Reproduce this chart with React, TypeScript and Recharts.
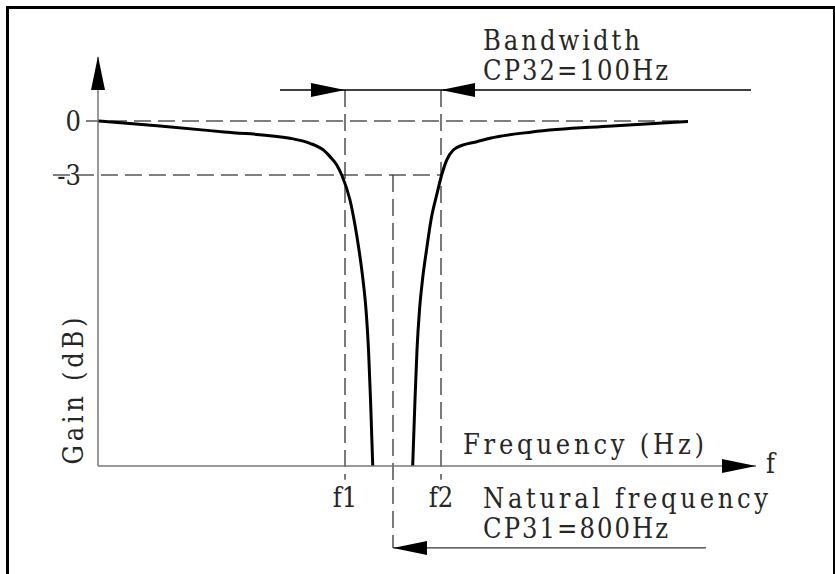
import { LineChart, Line, XAxis, YAxis, ReferenceLine, ReferenceDot } from "recharts";

// notch filter gain (Hz, dB)
const F1 = 750;
const F2 = 850;
const FN = 800;

const lowerBranch = [
  { hz: 492.7, db: 0 },
  { hz: 557.3, db: -0.28 },
  { hz: 624.0, db: -0.61 },
  { hz: 692.7, db: -0.96 },
  { hz: 713.5, db: -1.24 },
  { hz: 727.4, db: -1.61 },
  { hz: 734.4, db: -1.98 },
  { hz: 741.4, db: -2.44 },
  { hz: 746.6, db: -3.0 },
  { hz: 755.2, db: -4.39 },
  { hz: 760.4, db: -5.78 },
  { hz: 764.6, db: -7.17 },
  { hz: 768.75, db: -8.83 },
  { hz: 771.9, db: -10.5 },
  { hz: 774.5, db: -12.72 },
  { hz: 776.6, db: -15.5 },
  { hz: 778.9, db: -19.17 },
];

const upperBranch = [
  { hz: 820.5, db: -19.17 },
  { hz: 822.9, db: -15.5 },
  { hz: 825.0, db: -12.72 },
  { hz: 827.6, db: -10.5 },
  { hz: 830.7, db: -8.83 },
  { hz: 834.9, db: -7.17 },
  { hz: 839.6, db: -5.5 },
  { hz: 845.5, db: -4.11 },
  { hz: 850.7, db: -3.0 },
  { hz: 855.9, db: -2.17 },
  { hz: 862.8, db: -1.61 },
  { hz: 873.2, db: -1.33 },
  { hz: 887.2, db: -1.15 },
  { hz: 901.0, db: -0.96 },
  { hz: 944.8, db: -0.61 },
  { hz: 1028.1, db: -0.28 },
  { hz: 1107.3, db: -0.03 },
];

const xTicks = [F1, F2];
const xTickLabels = ["f1", "f2"];
const yTicks = [0, -3];
const yTickLabels = ["0", "-3"];

const X_DOMAIN = [492.71, 1178.13];
const Y_DOMAIN = [-19.1667, 3.5556];

const BAND_DB = 1.722;
const NATURAL_DB = -23.72;

const notes = [
  { text: "Bandwidth", hz: 893.75, db: 3.944, len: 157 },
  { text: "CP32=100Hz", hz: 893.75, db: 2.278, len: 185 },
  { text: "Frequency (Hz)", hz: 872.9, db: -18.5, len: 241 },
  { text: "f", hz: 1188.5, db: -19.56, len: 0 },
  { text: "Natural frequency", hz: 893.75, db: -21.5, len: 285 },
  { text: "CP31=800Hz", hz: 893.75, db: -23.17, len: 185 },
];

const FONT = "'DejaVu Serif Condensed', 'DejaVu Serif', 'Liberation Serif', serif";
const FONT_SIZE = 27;
const INK = "#262626";

const ArrowHead = (props: any) => {
  const { cx, cy, dir } = props;
  const len = 34;
  const half = 7;
  let pts = "";
  if (dir === "up") pts = `${cx},${cy} ${cx - half},${cy + len} ${cx + half},${cy + len}`;
  if (dir === "right") pts = `${cx},${cy} ${cx - len},${cy - half} ${cx - len},${cy + half}`;
  if (dir === "left") pts = `${cx},${cy} ${cx + len},${cy - half} ${cx + len},${cy + half}`;
  return <polygon points={pts} fill="#000" />;
};

const Note = (props: any) => {
  const { cx, cy, text, len } = props;
  return (
    <text
      x={cx}
      y={cy}
      fontFamily={FONT}
      fontSize={FONT_SIZE}
      fill={INK}
      textLength={len || undefined}
      lengthAdjust="spacing"
    >
      {text}
    </text>
  );
};

const dash = { stroke: "#555", strokeWidth: 1.3, strokeDasharray: "17 7" };

export default function App() {
  return (
    <div style={{ position: "absolute", left: 0, top: 0, width: 835, height: 574, background: "#fff", overflow: "hidden" }}>
      <LineChart width={835} height={574} margin={{ top: 57, right: 79, bottom: 58, left: 38 }}>
        <XAxis
          type="number"
          dataKey="hz"
          domain={X_DOMAIN}
          ticks={xTicks}
          interval={0}
          tickFormatter={(v) => xTickLabels[xTicks.indexOf(v)]}
          tickLine={false}
          tickSize={0}
          tickMargin={22}
          height={50}
          axisLine={{ stroke: "#777", strokeWidth: 1.5 }}
          tick={{ fontSize: FONT_SIZE, fontFamily: FONT, fill: INK }}
        />
        <YAxis
          type="number"
          domain={Y_DOMAIN}
          ticks={yTicks}
          interval={0}
          tickFormatter={(v) => yTickLabels[yTicks.indexOf(v)]}
          tickLine={false}
          tickSize={0}
          tickMargin={17}
          width={60}
          axisLine={{ stroke: "#777", strokeWidth: 1.5 }}
          tick={{ fontSize: FONT_SIZE, fontFamily: FONT, fill: INK }}
        />

        <ReferenceLine ifOverflow="visible" segment={[{ x: 480.2, y: 0 }, { x: 1107.3, y: 0 }]} {...dash} />
        <ReferenceLine ifOverflow="visible" segment={[{ x: 445.8, y: -3 }, { x: F2, y: -3 }]} {...dash} />
        <ReferenceLine ifOverflow="visible" segment={[{ x: F1, y: BAND_DB }, { x: F1, y: -19.94 }]} {...dash} stroke="#333" />
        <ReferenceLine ifOverflow="visible" segment={[{ x: F2, y: BAND_DB }, { x: F2, y: -19.94 }]} {...dash} stroke="#333" />
        <ReferenceLine ifOverflow="visible" segment={[{ x: FN, y: -3 }, { x: FN, y: NATURAL_DB }]} {...dash} stroke="#333" />
        <ReferenceLine ifOverflow="visible" segment={[{ x: 682.3, y: BAND_DB }, { x: 1172.9, y: BAND_DB }]} stroke="#000" strokeWidth={1.4} />
        <ReferenceLine ifOverflow="visible" segment={[{ x: FN, y: NATURAL_DB }, { x: 1126, y: NATURAL_DB }]} stroke="#333" strokeWidth={1.4} />

        <Line data={lowerBranch} dataKey="db" type="monotone" stroke="#000" strokeWidth={3} dot={false} isAnimationActive={false} />
        <Line data={upperBranch} dataKey="db" type="monotone" stroke="#000" strokeWidth={3} dot={false} isAnimationActive={false} />

        <ReferenceDot ifOverflow="visible" x={492.71} y={3.611} r={0} shape={(p: any) => <ArrowHead {...p} dir="up" />} />
        <ReferenceDot ifOverflow="visible" x={1178.13} y={-19.1667} r={0} shape={(p: any) => <ArrowHead {...p} dir="right" />} />
        <ReferenceDot ifOverflow="visible" x={F1} y={BAND_DB} r={0} shape={(p: any) => <ArrowHead {...p} dir="right" />} />
        <ReferenceDot ifOverflow="visible" x={F2} y={BAND_DB} r={0} shape={(p: any) => <ArrowHead {...p} dir="left" />} />
        <ReferenceDot ifOverflow="visible" x={FN} y={NATURAL_DB} r={0} shape={(p: any) => <ArrowHead {...p} dir="left" />} />

        {notes.map((n) => (
          <ReferenceDot
            key={n.text}
            ifOverflow="visible"
            x={n.hz}
            y={n.db}
            r={0}
            shape={(p: any) => <Note {...p} text={n.text} len={n.len} />}
          />
        ))}
        <ReferenceDot
          ifOverflow="visible"
          x={477.1}
          y={-15}
          r={0}
          shape={(p: any) => (
            <text
              x={p.cx}
              y={p.cy}
              transform={`rotate(-90 ${p.cx} ${p.cy})`}
              textAnchor="middle"
              fontFamily={FONT}
              fontSize={FONT_SIZE}
              fill={INK}
              textLength={147}
              lengthAdjust="spacing"
            >
              Gain (dB)
            </text>
          )}
        />
      </LineChart>
      <div
        style={{
          position: "absolute",
          left: 6,
          top: 6,
          width: 829,
          height: 568,
          boxSizing: "border-box",
          borderTop: "3px solid #000",
          borderLeft: "3px solid #000",
          borderRight: "2px solid #000",
          pointerEvents: "none",
        }}
      />
    </div>
  );
}
